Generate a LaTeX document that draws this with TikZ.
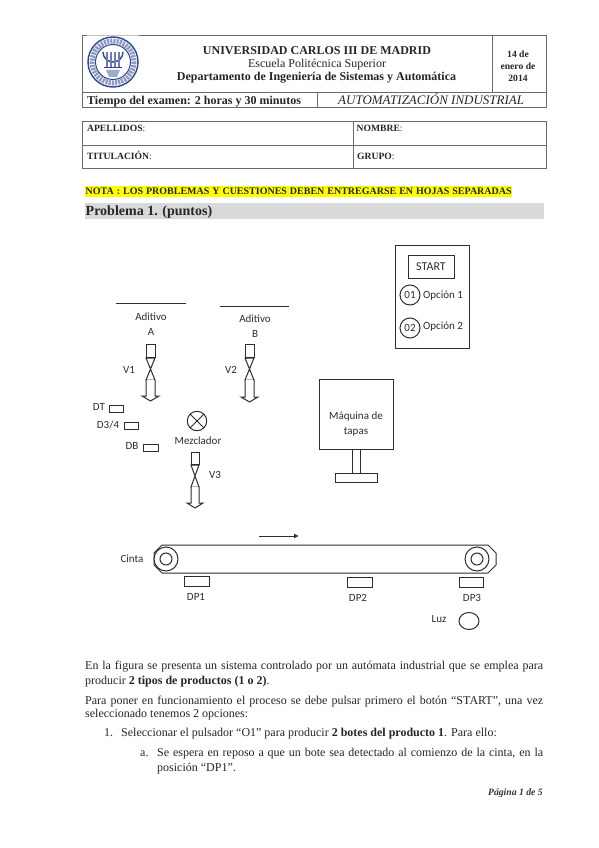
\documentclass[tikz,border=0pt]{standalone}
\usepackage{fontspec}
\usetikzlibrary{arrows.meta}
\setmainfont{Liberation Serif}
\newfontfamily\lab{Carlito}
\definecolor{rule}{gray}{0.42}
\definecolor{ink}{gray}{0.18}
\definecolor{band}{gray}{0.85}
\definecolor{hl}{RGB}{255,255,0}
\definecolor{uc3m}{RGB}{45,70,145}
\newcommand\just[1]{\makebox[458pt][s]{#1}}
\newcommand\justb[1]{\makebox[386pt][s]{#1}}
\tikzset{
  x=1pt,y=-1pt,
  frame/.style={draw=rule,line width=1pt},
  part/.style={draw=ink,line width=1pt},
  labl/.style={inner sep=0pt,font=\lab\fontsize{11}{13}\selectfont,text=ink},
  tt/.style={inner sep=0pt,anchor=base west,font=\fontsize{12}{14}\selectfont,text=black!85},
  ctr/.style={inner sep=0pt,anchor=center,text=black!85},
  small/.style={font=\bfseries\fontsize{9.6}{11}\selectfont},
}
\newcommand\valve[5]{% left, right, recttop, bowtie top, tip
  \draw[part] (#1,#3) rectangle (#2,#4-1);
  \draw[part] (#1,#4) -- (#2,#4) -- (#1,#4+22) -- (#2,#4+22) -- cycle;
  \draw[part,fill=white] (#1,#4+22) -- (#1,#5-5) -- (#1-4,#5-5) -- ({(#1+#2)/2},#5) -- (#2+4,#5-5) -- (#2,#5-5) -- (#2,#4+22);
}
\begin{document}
\begin{tikzpicture}
\useasboundingbox[fill=white] (0,0) rectangle (599,848);
% header frames
\draw[frame] (82,36) rectangle (546,108);
\draw[frame] (82,93) -- (546,93);
\draw[frame] (492,36) -- (492,93);
\draw[frame] (317,93) -- (317,108);
\draw[frame] (82,122) rectangle (546,168);
\draw[frame] (82,145) -- (546,145);
\draw[frame] (353,122) -- (353,168);
% logo
\fill[white,opacity=.6] (87,35) rectangle (139,37);
\draw[uc3m,line width=1.4pt] (113,62) circle (25);
\draw[uc3m!55!white,line width=5pt,dash pattern=on 2.2pt off 1pt] (113,62) circle (21);
\draw[uc3m,line width=1pt] (113,62) circle (17.5);
\draw[uc3m,line width=1.4pt] (103,52) arc[start angle=180,end angle=0,radius=10];
\foreach \cx in {107,111,115,119}{\draw[uc3m!70!white,line width=1.3pt] (\cx,52) -- (\cx,67);}
\draw[uc3m,line width=1pt] (104,67.5) -- (122,67.5);
\fill[uc3m!45!white] (106,70) -- (120,70) -- (117,77) -- (109,77) -- cycle;
% header text
\node[ctr,font=\bfseries\fontsize{12}{14}\selectfont] (uni) at (317,51) {UNIVERSIDAD CARLOS III DE MADRID};
\node[ctr,font=\fontsize{12}{14}\selectfont] (esc) at (317,65) {Escuela Politécnica Superior};
\node[ctr,font=\bfseries\fontsize{12}{14}\selectfont] (dep) at (316.5,78) {Departamento de Ingeniería de Sistemas y Automática};
\node[ctr,small] (d1) at (518,54) {14 de};
\node[ctr,small] (d2) at (518,66) {enero de};
\node[ctr,small] (d3) at (518,78) {2014};
\node[tt,font=\bfseries\fontsize{12}{14}\selectfont] (tiempo) at (87,104.5) {Tiempo del examen: 2 horas y 30 minutos};
\node[tt,font=\itshape\fontsize{13}{15}\selectfont] (asig) at (338,105) {AUTOMATIZACIÓN INDUSTRIAL};
\node[tt,small] (ape) at (87,131.5) {APELLIDOS\textmd{:}};
\node[tt,small] (nom) at (356.5,131.5) {NOMBRE\textmd{:}};
\node[tt,small] (tit) at (87,159.5) {TITULACIÓN\textmd{:}};
\node[tt,small] (gru) at (357,159.5) {GRUPO\textmd{:}};
% note and band
\fill[hl] (85,186) rectangle (512,197);
\node[tt,font=\bfseries\fontsize{10}{12}\selectfont] (nota) at (85.5,194.5) {\makebox[426pt][s]{NOTA : LOS PROBLEMAS Y CUESTIONES DEBEN ENTREGARSE EN HOJAS SEPARADAS}};
\fill[band] (85,203) rectangle (544,219);
\node[tt,font=\bfseries\fontsize{14}{16}\selectfont] (prob) at (85.5,215.5) {Problema 1. (puntos)};
% additives
\draw[part] (116,303) -- (186,303);
\draw[part] (220,306) -- (289,306);
\node[labl] (adA) at (151,317) {Aditivo};
\node[labl] (a) at (151,332) {A};
\node[labl] (adB) at (255,319) {Aditivo};
\node[labl] (b) at (255,334) {B};
\valve{146}{155}{344}{358}{401}
\valve{245}{254}{344}{358}{402}
\valve{191}{199}{452}{465}{508}
\node[labl] (v1) at (129,370) {V1};
\node[labl] (v2) at (231,370) {V2};
\node[labl] (v3) at (215,475) {V3};
% level sensors
\node[labl] (dt) at (99,407) {DT};
\draw[part] (109,405) rectangle (123,412);
\node[labl] (d34) at (108,425) {D3/4};
\draw[part] (124,422) rectangle (138,429);
\node[labl] (db) at (132,446) {DB};
\draw[part] (143,444) rectangle (158,451);
% mixer
\draw[part] (197,421) circle (9.7);
\draw[part] (190.1,414.1) -- (203.9,427.9) (190.1,427.9) -- (203.9,414.1);
\node[labl] (mez) at (198,441) {Mezclador};
% panel
\draw[part] (395,245) rectangle (469,348);
\node[part,draw,minimum width=46pt,minimum height=23pt,inner sep=0pt,font=\lab\fontsize{12}{14}\selectfont,text=ink] (start) at (431,266.5) {START};
\node[part,draw,circle,minimum size=20pt,inner sep=0pt,font=\lab\fontsize{11}{13}\selectfont,text=ink] (o1) at (410,295) {01};
\node[part,draw,circle,minimum size=20pt,inner sep=0pt,font=\lab\fontsize{11}{13}\selectfont,text=ink] (o2) at (410,328) {02};
\node[labl] (op1) at (443,296) {Opción 1};
\node[labl] (op2) at (443,327) {Opción 2};
% cap machine
\draw[part] (319,379) rectangle (393,449);
\node[labl] (maq) at (356,417) {Máquina de};
\node[labl] (tap) at (356,432) {tapas};
\draw[part] (352,449) rectangle (360,473);
\draw[part] (335,473) rectangle (377,482);
% belt
\coordinate (ba) at (259,536);
\coordinate (bb) at (299,536);
\draw[ink,line width=1pt,-{Latex[length=5pt,width=5pt]}] (ba) -- (bb);
\draw[part] (162,545) -- (488,545) -- (496,553) -- (496,565) -- (488,573) -- (162,573) -- (154,565) -- (154,553) -- cycle;
\draw[part,fill=white] (166,559) circle (12);
\draw[part] (166,559) circle (6);
\draw[part,fill=white] (477,559) circle (12);
\draw[part] (477,559) circle (6);
\node[labl] (cinta) at (132,559) {Cinta};
\draw[part] (184,576) rectangle (209,586);
\draw[part] (347,577) rectangle (372,587);
\draw[part] (459,577) rectangle (483,587);
\node[labl] (dp1) at (196,597) {DP1};
\node[labl] (dp2) at (358,598) {DP2};
\node[labl] (dp3) at (472,598) {DP3};
\node[labl] (luz) at (439,619) {Luz};
\draw[part] (469,621) ellipse (10 and 8.5);
% body
\node[tt] (l1) at (85,669.5) {\just{En la figura se presenta un sistema controlado por un autómata industrial que se emplea para}};
\node[tt] (l2) at (85,684.5) {producir \textbf{2 tipos de productos (1 o 2)}.};
\node[tt] (l3) at (85,704.5) {\just{Para poner en funcionamiento el proceso se debe pulsar primero el botón “START”, una vez}};
\node[tt] (l4) at (85,717.5) {seleccionado tenemos 2 opciones:};
\node[tt] (n1) at (104,736.5) {1.};
\node[tt] (l5) at (121,736.5) {Seleccionar el pulsador “O1” para producir \textbf{2 botes del producto 1}. Para ello:};
\node[tt] (na) at (140,756.5) {a.};
\node[tt] (l6) at (157,756.5) {\justb{Se espera en reposo a que un bote sea detectado al comienzo de la cinta, en la}};
\node[tt] (l7) at (157,771.5) {posición “DP1”.};
\node[inner sep=0pt,anchor=base east,font=\bfseries\itshape\fontsize{9.7}{11}\selectfont,text=black!80] (pag) at (543,795) {Página 1 de 5};
\end{tikzpicture}
\end{document}
